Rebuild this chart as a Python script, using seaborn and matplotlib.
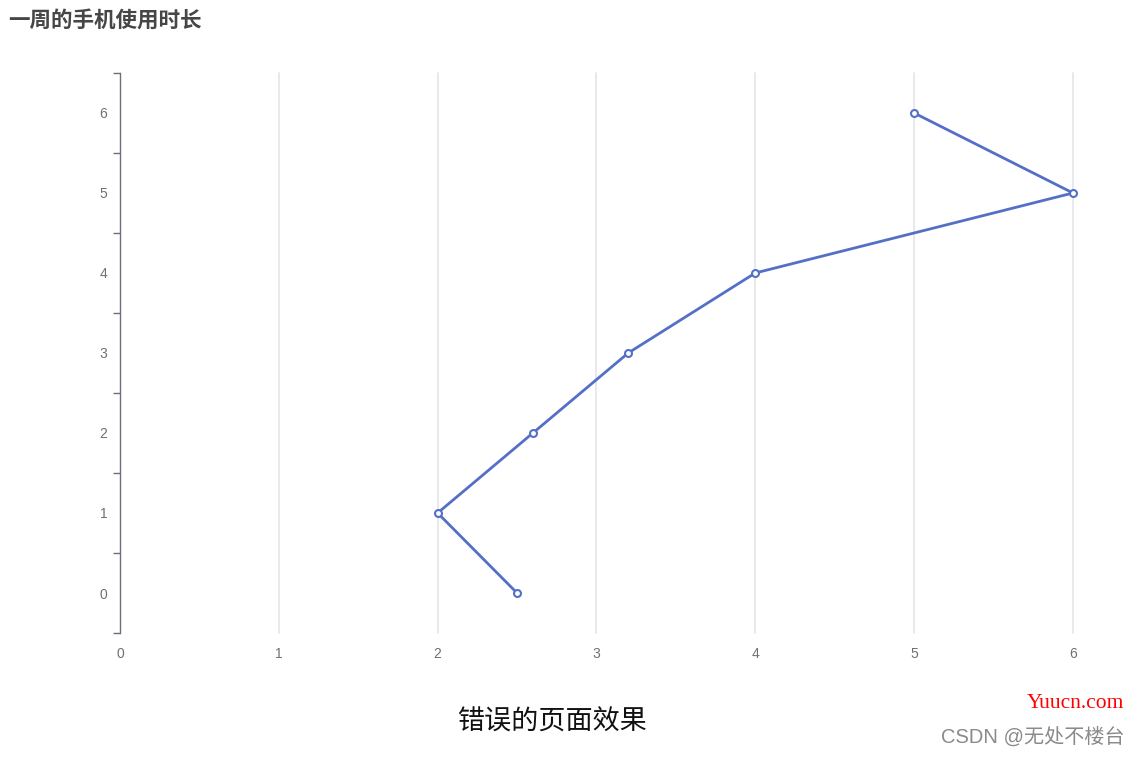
import matplotlib
matplotlib.use('Agg')
import matplotlib.pyplot as plt
import seaborn as sns
import pandas as pd
from matplotlib.ticker import FixedLocator

# 数据：每天的使用时长（x）与类目（y）
days = [0, 1, 2, 3, 4, 5, 6]
hours = [2.5, 2, 2.6, 3.2, 4, 6, 5]
x_ticks = [0, 1, 2, 3, 4, 5, 6]

LINE_COLOR = '#5470c6'
LABEL_COLOR = '#6e7079'

sns.set_theme(style='white')
plt.rcParams['font.family'] = ['Liberation Sans', 'Noto Sans CJK SC', 'DejaVu Sans']

df = pd.DataFrame({'hours': hours, 'day': days})

fig = plt.figure(figsize=(11.36, 7.57), dpi=100)
ax = fig.add_axes([0.1056, 0.1638, 0.8389, 0.7398])

# 垂直网格线
for xv in x_ticks[1:]:
    ax.axvline(xv, color='#e4e5ea', linewidth=1.2, zorder=0, clip_on=False)

sns.lineplot(
    data=df, x='hours', y='day', sort=False, ax=ax,
    color=LINE_COLOR, linewidth=2,
    marker='o', markersize=5, markerfacecolor='white',
    markeredgecolor=LINE_COLOR, markeredgewidth=1.5,
    clip_on=False,
)

ax.set_xlim(0, 6)
ax.set_ylim(-0.5, 6.5)
ax.set_xticks(x_ticks)
ax.set_yticks(days)
ax.yaxis.set_minor_locator(FixedLocator([d - 0.5 for d in days] + [6.5]))
ax.tick_params(axis='y', which='major', length=0, pad=9, labelsize=10, labelcolor=LABEL_COLOR)
ax.tick_params(axis='y', which='minor', length=5, width=1, color=LABEL_COLOR, left=True)
ax.tick_params(axis='x', length=0, pad=10, labelsize=10, labelcolor=LABEL_COLOR)
ax.set_xlabel('')
ax.set_ylabel('')

for side in ['top', 'right', 'bottom']:
    ax.spines[side].set_visible(False)
ax.spines['left'].set_color(LABEL_COLOR)
ax.spines['left'].set_linewidth(1)

cjk = ['Noto Sans CJK SC', 'DejaVu Sans']
fig.text(0.007, 0.972, '一周的手机使用时长', fontsize=15.5, fontweight='bold',
         color='#464646', ha='left', va='center', family=cjk)
fig.text(0.486, 0.046, '错误的页面效果', fontsize=19.5, color='#111111',
         ha='center', va='center', family=cjk)
fig.text(0.947, 0.071, 'Yuucn.com', fontsize=15.5, color='#ff0000',
         family=['Liberation Serif', 'DejaVu Serif'], ha='center', va='center')
fig.text(0.909, 0.027, 'CSDN @无处不楼台', fontsize=14.5, color='#8a8a8a',
         ha='center', va='center')

plt.savefig('out.png', dpi=100)
